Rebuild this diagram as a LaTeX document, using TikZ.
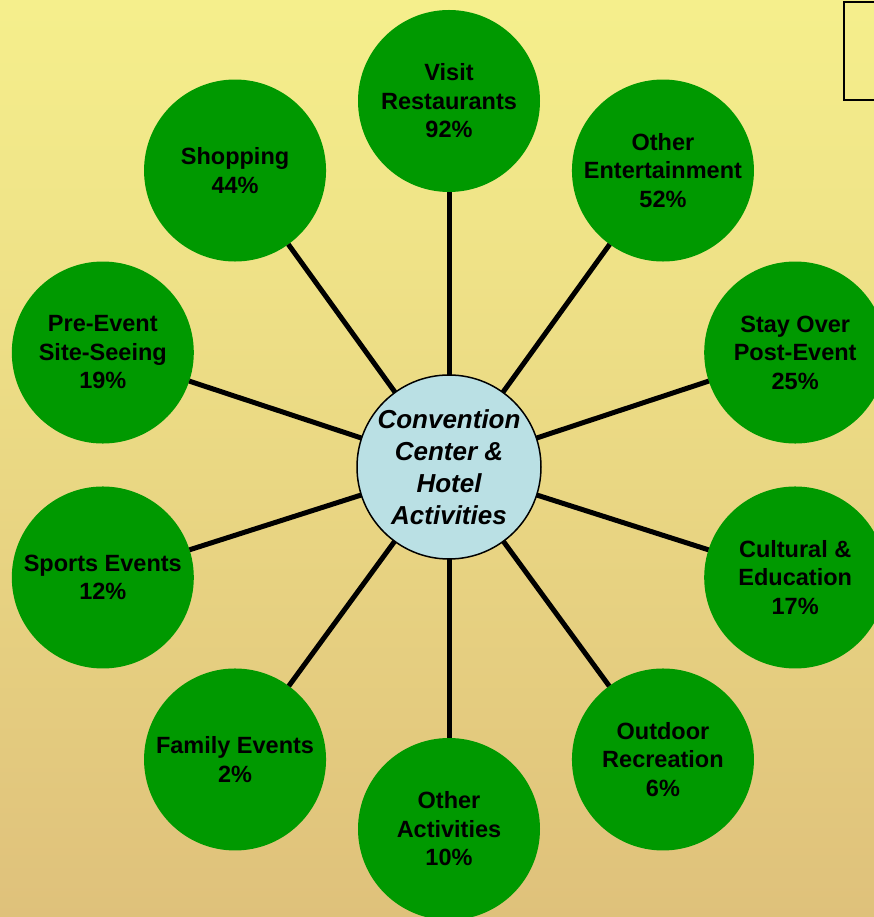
\documentclass[tikz,border=0pt]{standalone}
\usepackage{fontspec}
\setmainfont{Liberation Sans}
\usetikzlibrary{positioning}
\definecolor{bgtop}{RGB}{245,239,140}
\definecolor{bgbot}{RGB}{223,193,123}
\definecolor{actgreen}{RGB}{0,153,0}
\definecolor{hubblue}{RGB}{186,224,228}
\def\pct#1{\\#1\%}

\begin{document}
\begin{tikzpicture}[x=1pt,y=1pt,
	act/.style={circle,minimum size=182pt,inner sep=0pt,outer sep=0pt,fill=actgreen,align=center,text=black,font=\fontsize{23.5}{28.5}\selectfont\bfseries},
	hubnode/.style={circle,minimum size=184pt,inner sep=0pt,outer sep=0pt,draw=black,line width=1.5pt,fill=hubblue,align=center,font=\fontsize{26}{32}\selectfont\bfseries\itshape},
	spoke/.style={line width=5pt,black}]
	\useasboundingbox (-449,-452) rectangle (425,465);
	\fill [top color=bgtop,bottom color=bgbot] (-449,-452) rectangle (425,465);
	\draw [line width=2.5pt] (428,463) -- (395,463) -- (395,365) -- (428,365);

	\node [hubnode] at (0,-2) (hub) {Convention\\Center \&\\Hotel\\Activities};

	\node [act] at (90:364) (rest) {Visit\\Restaurants\pct{92}};
	\node [act] at (54:364) (ent) {Other\\Entertainment\pct{52}};
	\node [act] at (18:364) (stay) {Stay Over\\Post-Event\pct{25}};
	\node [act] at (-18:364) (cult) {Cultural \&\\Education\pct{17}};
	\node [act] at (-54:364) (outd) {Outdoor\\Recreation\pct{6}};
	\node [act] at (-90:364) (oact) {Other\\Activities\pct{10}};
	\node [act] at (-126:364) (fam) {Family Events\pct{2}};
	\node [act] at (-162:364) (sport) {Sports Events\pct{12}};
	\node [act] at (162:364) (pre) {Pre-Event\\Site-Seeing\pct{19}};
	\node [act] at (126:364) (shop) {Shopping\pct{44}};

	\foreach \n in {rest,ent,stay,cult,outd,oact,fam,sport,pre,shop}
		\draw [spoke] (hub) -- (\n);
\end{tikzpicture}
\end{document}
